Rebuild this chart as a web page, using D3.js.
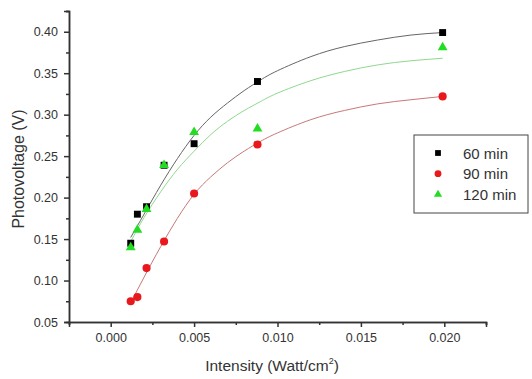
<!DOCTYPE html>
<html>
<head>
<meta charset="utf-8">
<script src="https://cdn.jsdelivr.net/npm/d3@7"></script>
<style>
body { margin: 0; background: #fff; }
text { font-family: Arial, "Liberation Sans", sans-serif; fill: #333; }
</style>
</head>
<body>
<script>
(function(){

// measured points (intensity in Watt/cm2)
var xPoints = [0.0012, 0.0016, 0.00215, 0.0032, 0.005, 0.0088, 0.0199];
var v60 = [0.145, 0.180, 0.189, 0.239, 0.265, 0.340, 0.399];
var v90 = [0.075, 0.080, 0.115, 0.147, 0.205, 0.264, 0.322];
var v120 = [0.140, 0.161, 0.186, 0.239, 0.279, 0.283, 0.381];

// fitted curves
var xFit = [0.0012, 0.002, 0.003, 0.004, 0.005, 0.006, 0.007, 0.008, 0.009, 0.010, 0.012, 0.014, 0.016, 0.018, 0.0199];
var fit60 = [0.152, 0.180, 0.215, 0.247, 0.275, 0.297, 0.314, 0.329, 0.342, 0.353, 0.370, 0.382, 0.390, 0.396, 0.399];
var fit90 = [0.073, 0.104, 0.141, 0.175, 0.204, 0.225, 0.242, 0.256, 0.268, 0.278, 0.294, 0.305, 0.313, 0.318, 0.322];
var fit120 = [0.147, 0.176, 0.207, 0.234, 0.256, 0.276, 0.292, 0.305, 0.316, 0.326, 0.341, 0.352, 0.360, 0.365, 0.368];

// tick labels
var xTicks = [0.000, 0.005, 0.010, 0.015, 0.020];
var yTicks = [0.05, 0.10, 0.15, 0.20, 0.25, 0.30, 0.35, 0.40];
var legendLabels = ["60 min", "90 min", "120 min"];

var width = 532,
    height = 379,
    left = 69,
    right = 486,
    top = 11,
    bottom = 322;

var svg = d3.select("body")
    .append("svg")
    .attr("width", width)
    .attr("height", height);

var x = d3.scaleLinear()
    .domain([-0.0025, 0.0225])
    .range([left, right]);

var y = d3.scaleLinear()
    .domain([0.05, 0.425])
    .range([bottom, top]);

// minor ticks sit halfway between majors
var xMinor = d3.range(-0.0025, 0.0226, 0.005);
var yMinor = d3.range(0.075, 0.426, 0.05);

// x axis
svg.append("g")
    .attr("class", "x minor")
    .attr("transform", "translate(0," + bottom + ")")
    .call(d3.axisBottom(x).tickValues(xMinor).tickSize(3).tickFormat(""));

svg.append("g")
    .attr("class", "x axis")
    .attr("transform", "translate(0," + bottom + ")")
    .call(d3.axisBottom(x).tickValues(xTicks).tickSize(5).tickPadding(6).tickFormat(d3.format(".3f")));

// y axis
svg.append("g")
    .attr("class", "y minor")
    .attr("transform", "translate(" + left + ",0)")
    .call(d3.axisLeft(y).tickValues(yMinor).tickSize(3).tickFormat(""));

svg.append("g")
    .attr("class", "y axis")
    .attr("transform", "translate(" + left + ",0)")
    .call(d3.axisLeft(y).tickValues(yTicks).tickSize(5).tickPadding(6).tickFormat(d3.format(".2f")));

svg.selectAll(".domain, .tick line")
    .attr("stroke", "#333")
    .attr("stroke-width", 1.5);

svg.selectAll(".tick text")
    .style("font-size", "12.5px")
    .attr("fill", "#3a3a3a");

// axis titles
var xTitle = svg.append("text")
    .attr("x", 272)
    .attr("y", 371)
    .attr("text-anchor", "middle")
    .style("font-size", "15.5px");
xTitle.append("tspan").text("Intensity (Watt/cm");
xTitle.append("tspan")
    .attr("dy", -7)
    .style("font-size", "9px")
    .text("2");
xTitle.append("tspan")
    .attr("dy", 7)
    .text(")");

svg.append("text")
    .attr("transform", "translate(24," + 169 + ") rotate(-90)")
    .attr("text-anchor", "middle")
    .style("font-size", "16px")
    .text("Photovoltage (V)");

// series setup
var series = [
    {vals: v60, fit: fit60, fill: "#000", line: "#666", shape: d3.symbolSquare, size: 48},
    {vals: v90, fit: fit90, fill: "#e8181c", line: "#c87878", shape: d3.symbolCircle, size: 52},
    {vals: v120, fit: fit120, fill: "#22dd22", line: "#90d890", shape: d3.symbolTriangle, size: 42}
];

var line = d3.line()
    .x(function(d){ return x(d[0]); })
    .y(function(d){ return y(d[1]); })
    .curve(d3.curveNatural);

series.forEach(function(s){
    svg.append("path")
        .datum(d3.zip(xFit, s.fit))
        .attr("d", line)
        .attr("fill", "none")
        .attr("stroke", s.line)
        .attr("stroke-width", 1);
});

series.forEach(function(s){
    svg.selectAll(null)
        .data(d3.zip(xPoints, s.vals))
        .enter()
        .append("path")
        .attr("d", d3.symbol().type(s.shape).size(s.size))
        .attr("transform", function(d){
            return "translate(" + x(d[0]) + "," + y(d[1]) + ")";
        })
        .attr("fill", s.fill);
});

// legend
var legend = svg.append("g")
    .attr("class", "legend");

legend.append("rect")
    .attr("x", 414)
    .attr("y", 135)
    .attr("width", 114)
    .attr("height", 78)
    .attr("fill", "#fff")
    .attr("stroke", "#444")
    .attr("stroke-width", 1);

legendLabels.forEach(function(lab, i){
    var ly = 153 + i * 20.7;
    legend.append("path")
        .attr("d", d3.symbol().type(series[i].shape).size(series[i].size * 0.7))
        .attr("transform", "translate(438," + ly + ")")
        .attr("fill", series[i].fill);
    legend.append("text")
        .attr("x", 463)
        .attr("y", ly + 5.5)
        .style("font-size", "15px")
        .attr("fill", "#222")
        .text(lab);
});

})();
</script>
</body>
</html>
